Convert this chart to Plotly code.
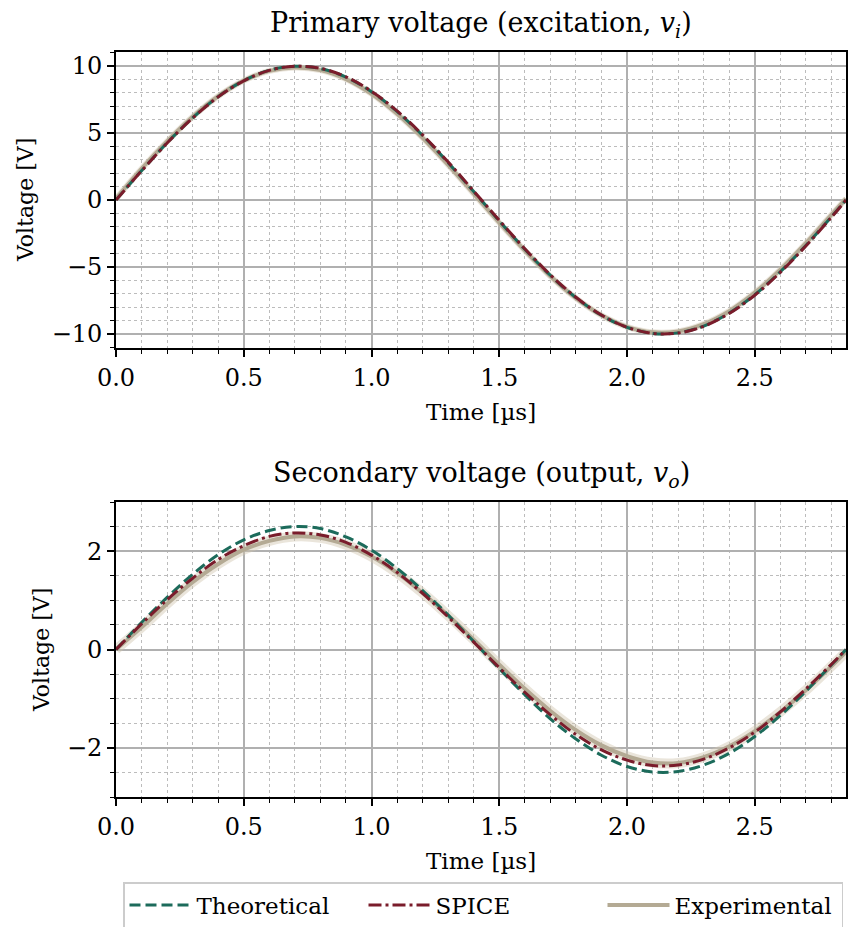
import plotly.graph_objects as go
from plotly.subplots import make_subplots

# Time samples in microseconds (one period of a 350 kHz excitation)
time_us = [0.0, 0.1, 0.2, 0.3, 0.4, 0.5, 0.6, 0.7, 0.8, 0.9, 1.0, 1.1, 1.2, 1.3, 1.4,
           1.5, 1.6, 1.7, 1.8, 1.9, 2.0, 2.1, 2.2, 2.3, 2.4, 2.5, 2.6, 2.7, 2.8, 2.857]

# Primary (excitation) voltage, V
primary_theory = [0.0, 2.18, 4.26, 6.13, 7.71, 8.91, 9.69, 9.99, 9.82, 9.18, 8.09, 6.61, 4.82, 2.79, 0.63,
                  -1.56, -3.68, -5.62, -7.29, -8.61, -9.51, -9.96, -9.92, -9.41, -8.44, -7.07, -5.36, -3.39, -1.25, 0.0]
primary_spice = [0.0, 2.17, 4.25, 6.12, 7.70, 8.90, 9.68, 9.98, 9.83, 9.20, 8.12, 6.65, 4.86, 2.83, 0.67,
                 -1.52, -3.64, -5.59, -7.26, -8.59, -9.50, -9.96, -9.93, -9.43, -8.47, -7.11, -5.40, -3.43, -1.29, 0.0]
primary_exp = [0.1, 2.33, 4.37, 6.21, 7.75, 8.91, 9.64, 9.90, 9.70, 9.03, 7.93, 6.44, 4.64, 2.62, 0.47,
               -1.69, -3.78, -5.69, -7.33, -8.61, -9.47, -9.88, -9.81, -9.27, -8.30, -6.92, -5.20, -3.22, -1.10, 0.1]

# Secondary (output) voltage, V
secondary_theory = [0.0, 0.55, 1.06, 1.53, 1.93, 2.23, 2.42, 2.50, 2.46, 2.29, 2.02, 1.65, 1.20, 0.70, 0.16,
                    -0.39, -0.92, -1.41, -1.82, -2.15, -2.38, -2.49, -2.48, -2.35, -2.11, -1.77, -1.34, -0.85, -0.31, 0.0]
secondary_spice = [0.0, 0.52, 1.01, 1.45, 1.83, 2.11, 2.30, 2.37, 2.33, 2.18, 1.92, 1.57, 1.14, 0.66, 0.15,
                   -0.37, -0.87, -1.33, -1.73, -2.04, -2.25, -2.36, -2.35, -2.23, -2.00, -1.68, -1.27, -0.80, -0.30, 0.0]
secondary_exp = [0.0, 0.45, 0.93, 1.37, 1.74, 2.03, 2.21, 2.30, 2.27, 2.13, 1.89, 1.56, 1.15, 0.69, 0.20,
                 -0.31, -0.80, -1.25, -1.64, -1.95, -2.17, -2.30, -2.31, -2.19, -1.97, -1.66, -1.27, -0.83, -0.34, -0.05]

series_names = ["Theoretical", "SPICE", "Experimental"]
primary_ticks = [-10, -5, 0, 5, 10]
secondary_ticks = [-2, 0, 2]
time_ticks = [0.0, 0.5, 1.0, 1.5, 2.0, 2.5]

C_THEORY = "#1c6b5b"
C_SPICE = "#7a1c2b"
C_EXP = "#b4aa94"
FONT = "DejaVu Serif"

fig = make_subplots(rows=2, cols=1)

# (row, theory, spice, experimental, width of the measurement spread band)
panels = [
    (1, primary_theory, primary_spice, primary_exp, 6),
    (2, secondary_theory, secondary_spice, secondary_exp, 10),
]
for row, th, sp, ex, spread in panels:
    first = row == 1
    fig.add_trace(go.Scatter(x=time_us, y=ex, mode="lines",
                             line=dict(color="rgba(208,198,176,0.45)", width=spread, shape="spline"),
                             showlegend=False, hoverinfo="skip"), row=row, col=1)
    fig.add_trace(go.Scatter(x=time_us, y=ex, mode="lines", name=series_names[2], legendrank=3,
                             line=dict(color=C_EXP, width=4, shape="spline"), showlegend=first), row=row, col=1)
    fig.add_trace(go.Scatter(x=time_us, y=th, mode="lines", name=series_names[0], legendrank=1,
                             line=dict(color=C_THEORY, width=3, dash="11px,5px", shape="spline"),
                             showlegend=first), row=row, col=1)
    fig.add_trace(go.Scatter(x=time_us, y=sp, mode="lines", name=series_names[1], legendrank=2,
                             line=dict(color=C_SPICE, width=3, dash="13px,4px,3px,4px", shape="spline"),
                             showlegend=first), row=row, col=1)

axis_common = dict(
    automargin=False,
    showline=True, linecolor="black", linewidth=1.6, mirror=True,
    ticks="outside", ticklen=7, tickwidth=1.6, tickcolor="black",
    showgrid=True, gridcolor="#b0b0b0", gridwidth=1.5, zeroline=False,
    tickfont=dict(family=FONT, size=24, color="black"),
)
minor_common = dict(ticks="outside", ticklen=4, tickwidth=1.3, tickcolor="black",
                    showgrid=True, gridcolor="#bcbcbc", griddash="dot", gridwidth=1.2)

xdom = [116 / 848, 846 / 848]
fig.update_xaxes(**axis_common, range=[0, 2.857], tickvals=time_ticks,
                 ticktext=[f"{t:.1f}" for t in time_ticks], domain=xdom,
                 minor=dict(dtick=0.1, tick0=0, **minor_common))
fig.update_yaxes(**axis_common, row=1, col=1, range=[-11.05, 11.05], tickvals=primary_ticks,
                 domain=[1 - 348 / 927, 1 - 52 / 927],
                 minor=dict(dtick=1, tick0=0, **minor_common))
fig.update_yaxes(**axis_common, row=2, col=1, range=[-3.0, 3.0], tickvals=secondary_ticks,
                 domain=[1 - 797 / 927, 1 - 502 / 927],
                 minor=dict(dtick=0.5, tick0=0, **minor_common))


def label(text, x, y, size, angle=0):
    fig.add_annotation(text=text, x=x, y=y, xref="paper", yref="paper", showarrow=False,
                       textangle=angle, xanchor="center", yanchor="middle",
                       font=dict(family=FONT, size=size, color="black"))


label("Primary voltage (excitation, <i>v<sub>i</sub></i>)", 481 / 848, 1 - 24 / 927, 27)
label("Secondary voltage (output, <i>v<sub>o</sub></i>)", 481 / 848, 1 - 474 / 927, 27)
label("Time [µs]", 481 / 848, 1 - 412 / 927, 23)
label("Time [µs]", 481 / 848, 1 - 861 / 927, 23)
label("Voltage [V]", 26 / 848, 1 - 200 / 927, 22, -90)
label("Voltage [V]", 41 / 848, 1 - 650 / 927, 22, -90)

fig.update_layout(
    width=848, height=927, margin=dict(l=0, r=0, t=0, b=0, autoexpand=False),
    paper_bgcolor="white", plot_bgcolor="white",
    legend=dict(orientation="h", x=123 / 848, xanchor="left", y=1 - 882 / 927, yanchor="top",
                bordercolor="#cccccc", borderwidth=1.5, bgcolor="white",
                font=dict(family=FONT, size=23, color="black"),
                itemwidth=62, entrywidth=162, traceorder="normal"),
)

fig.write_html("out.html")
